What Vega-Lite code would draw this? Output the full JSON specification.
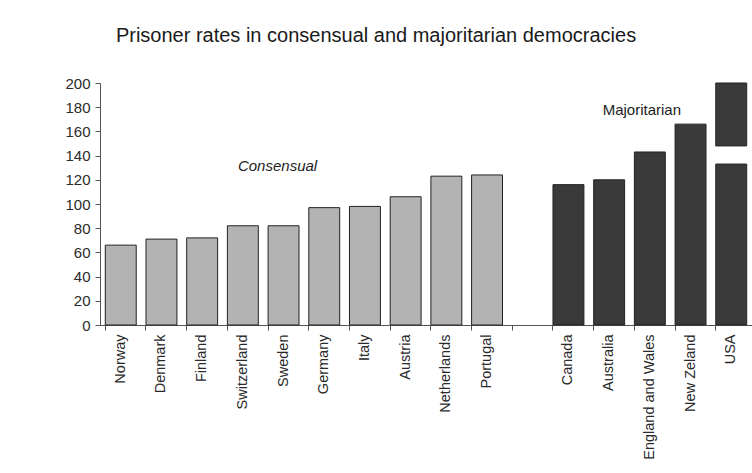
{
  "$schema": "https://vega.github.io/schema/vega-lite/v6.json",
  "autosize": "none",
  "padding": {"left": 100, "top": 83, "right": 0, "bottom": 148},
  "width": 652,
  "height": 242,
  "background": "white",
  "config": {"view": {"stroke": null}, "font": "Liberation Sans"},
  "title": {
    "text": "Prisoner rates in consensual and majoritarian democracies",
    "fontSize": 20,
    "fontWeight": "normal",
    "font": "Liberation Sans",
    "color": "#1a1a1a",
    "anchor": "middle",
    "frame": "group",
    "dx": -50,
    "offset": 30
  },
  "datasets": {
    "bars": [
      {"country": "Norway", "group": "Consensual", "start": 0, "end": 66},
      {"country": "Denmark", "group": "Consensual", "start": 0, "end": 71},
      {"country": "Finland", "group": "Consensual", "start": 0, "end": 72},
      {"country": "Switzerland", "group": "Consensual", "start": 0, "end": 82},
      {"country": "Sweden", "group": "Consensual", "start": 0, "end": 82},
      {"country": "Germany", "group": "Consensual", "start": 0, "end": 97},
      {"country": "Italy", "group": "Consensual", "start": 0, "end": 98},
      {"country": "Austria", "group": "Consensual", "start": 0, "end": 106},
      {"country": "Netherlands", "group": "Consensual", "start": 0, "end": 123},
      {"country": "Portugal", "group": "Consensual", "start": 0, "end": 124},
      {"country": "Canada", "group": "Majoritarian", "start": 0, "end": 116},
      {"country": "Australia", "group": "Majoritarian", "start": 0, "end": 120},
      {"country": "England and Wales", "group": "Majoritarian", "start": 0, "end": 143},
      {"country": "New Zeland", "group": "Majoritarian", "start": 0, "end": 166},
      {"country": "USA", "group": "Majoritarian", "start": 0, "end": 133},
      {"country": "USA", "group": "Majoritarian", "start": 148, "end": 200}
    ],
    "labelsItalic": [
      {"country": "Sweden", "start": 131, "text": "Consensual"}
    ],
    "labelsUpright": [
      {"country": "England and Wales", "start": 178, "text": "Majoritarian"}
    ]
  },
  "encoding": {
    "x": {
      "field": "country",
      "type": "nominal",
      "scale": {
        "domain": ["Norway", "Denmark", "Finland", "Switzerland", "Sweden", "Germany", "Italy", "Austria", "Netherlands", "Portugal", "gap", "Canada", "Australia", "England and Wales", "New Zeland", "USA"],
        "paddingInner": 0.24,
        "paddingOuter": 0.13
      },
      "axis": {
        "title": null,
        "labelAngle": -90,
        "labelAlign": "right",
        "labelBaseline": "middle",
        "labelFontSize": 14.5,
        "labelColor": "#2a2a2a",
        "labelPadding": 4,
        "labelOverlap": false,
        "labelExpr": "datum.value == 'gap' ? '' : datum.value",
        "bandPosition": 0,
        "tickSize": 5,
        "tickColor": "#555555",
        "domainColor": "#555555",
        "grid": false
      }
    },
    "y": {
      "field": "start",
      "type": "quantitative",
      "scale": {"domain": [0, 200], "nice": false},
      "axis": {
        "title": null,
        "values": [0, 20, 40, 60, 80, 100, 120, 140, 160, 180, 200],
        "labelFontSize": 15,
        "labelColor": "#2a2a2a",
        "labelPadding": 5,
        "labelOverlap": false,
        "tickSize": 5,
        "tickColor": "#555555",
        "domainColor": "#555555",
        "grid": false
      }
    }
  },
  "layer": [
    {
      "data": {"name": "bars"},
      "mark": {"type": "bar", "stroke": "#222222", "strokeWidth": 1},
      "encoding": {
        "y2": {"field": "end"},
        "fill": {
          "field": "group",
          "type": "nominal",
          "scale": {"domain": ["Consensual", "Majoritarian"], "range": ["#b3b3b3", "#3a3a3a"]},
          "legend": null
        }
      }
    },
    {
      "data": {"name": "labelsItalic"},
      "mark": {"type": "text", "fontSize": 15, "fontStyle": "italic", "color": "#222222", "dx": -6},
      "encoding": {
        "text": {"field": "text"}
      }
    },
    {
      "data": {"name": "labelsUpright"},
      "mark": {"type": "text", "fontSize": 15, "color": "#222222", "dx": -8},
      "encoding": {
        "text": {"field": "text"}
      }
    }
  ]
}
